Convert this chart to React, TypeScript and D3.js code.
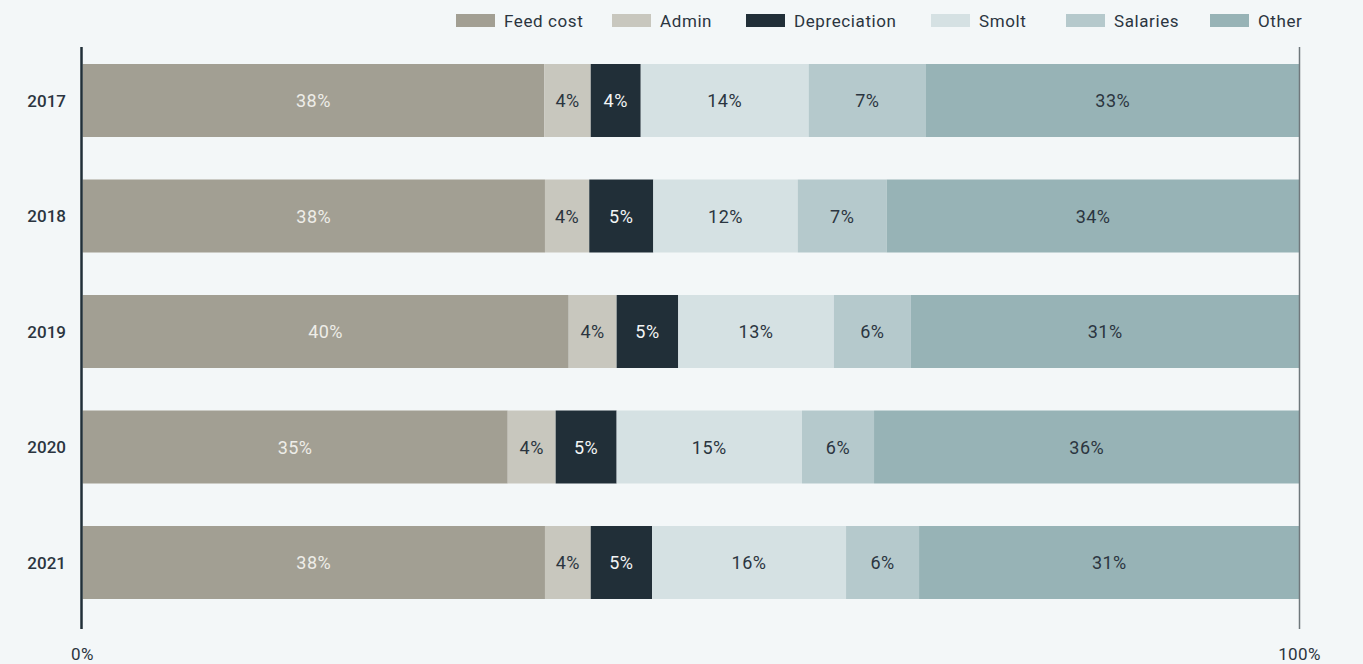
import React, { useEffect } from "react";
import * as d3 from "d3";

const years = ["2017", "2018", "2019", "2020", "2021"];
const seriesNames = ["Feed cost", "Admin", "Depreciation", "Smolt", "Salaries", "Other"];
const seriesColors = ["#a29f93", "#c8c7be", "#212f38", "#d5e1e3", "#b5c9cc", "#97b3b6"];
const labelColors = ["#eeede8", "#2b3540", "#f3f5f5", "#2b3540", "#2b3540", "#2b3540"];

// segment sizes (% of bar)
const feedCost = [37.95, 38.0, 39.95, 34.94, 38.0];
const admin = [3.81, 3.64, 3.94, 3.94, 3.76];
const depreciation = [4.11, 5.26, 5.06, 5.01, 5.04];
const smolt = [13.8, 11.87, 12.79, 15.23, 15.94];
const salaries = [9.64, 7.31, 6.33, 5.92, 6.0];
const other = [30.69, 33.92, 31.92, 34.96, 31.27];

// printed labels
const feedCostLabels = ["38%", "38%", "40%", "35%", "38%"];
const adminLabels = ["4%", "4%", "4%", "4%", "4%"];
const depreciationLabels = ["4%", "5%", "5%", "5%", "5%"];
const smoltLabels = ["14%", "12%", "13%", "15%", "16%"];
const salariesLabels = ["7%", "7%", "6%", "6%", "6%"];
const otherLabels = ["33%", "34%", "31%", "36%", "31%"];

const xTicks = [0, 100];
const xTickLabels = ["0%", "100%"];

const W = 1363;
const H = 664;
const FONT = "Roboto, 'DejaVu Sans', sans-serif";

export default function App() {
  useEffect(() => {
    document.body.style.margin = "0";
    document.body.style.background = "#f3f7f8";
  }, []);

  const values = [feedCost, admin, depreciation, smolt, salaries, other];
  const labels = [feedCostLabels, adminLabels, depreciationLabels, smoltLabels, salariesLabels, otherLabels];

  const x = d3.scaleLinear().domain([0, 100]).range([82.5, 1299.5]);
  const y = d3.scaleBand().domain(years).range([42.75, 620.25]).paddingInner(0.368).paddingOuter(0.184);

  const rows = years.map((yr, i) => {
    const obj: any = { year: yr };
    seriesNames.forEach((s, k) => (obj[s] = values[k][i]));
    return obj;
  });
  const stack = d3.stack<any>().keys(seriesNames)(rows);

  const legendX = [456, 612, 746, 931, 1066, 1210];

  return (
    <svg width={W} height={H} style={{ display: "block", background: "#f3f7f8" }} fontFamily={FONT}>
      <rect x={0} y={0} width={W} height={H} fill="#f3f7f8" />
      {/* legend */}
      {seriesNames.map((s, k) => (
        <g key={s} transform={`translate(${legendX[k]},0)`}>
          <rect x={0} y={14} width={39} height={13} fill={seriesColors[k]} />
          <text x={48} y={20.5} dominantBaseline="central" fontSize={17} letterSpacing={0.6} fill="#2b3540">
            {s}
          </text>
        </g>
      ))}
      {/* bars */}
      {stack.map((layer, k) => (
        <g key={layer.key}>
          {layer.map((d, i) => {
            const x0 = x(d[0]);
            const x1 = x(d[1]);
            const yy = y(years[i])!;
            return (
              <g key={i}>
                <rect x={x0} y={yy} width={x1 - x0} height={y.bandwidth()} fill={seriesColors[k]} />
                <text
                  x={(x0 + x1) / 2}
                  y={yy + y.bandwidth() / 2}
                  textAnchor="middle"
                  dominantBaseline="central"
                  fontSize={18}
                  letterSpacing={0.5}
                  fill={labelColors[k]}
                >
                  {labels[k][i]}
                </text>
              </g>
            );
          })}
        </g>
      ))}
      {/* axis lines */}
      <line x1={x(0) - 1} x2={x(0) - 1} y1={47} y2={629} stroke="#212f38" strokeWidth={2.5} />
      <line x1={x(100)} x2={x(100)} y1={47} y2={629} stroke="#6f787c" strokeWidth={1.5} />
      {/* year labels */}
      {years.map((yr) => (
        <text
          key={yr}
          x={66}
          y={y(yr)! + y.bandwidth() / 2}
          textAnchor="end"
          dominantBaseline="central"
          fontSize={17}
          fontWeight={500}
          fill="#2b3540"
        >
          {yr}
        </text>
      ))}
      {/* x tick labels */}
      {xTicks.map((t, i) => (
        <text key={t} x={x(t)} y={654} textAnchor="middle" dominantBaseline="central" fontSize={17} letterSpacing={0.4} fill="#2b3540">
          {xTickLabels[i]}
        </text>
      ))}
    </svg>
  );
}
